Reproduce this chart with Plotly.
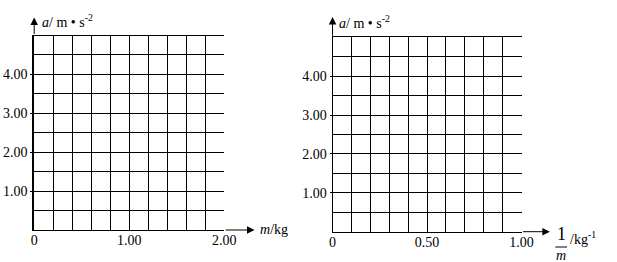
import plotly.graph_objects as go

W, H = 617, 262
FONT = "Liberation Serif"

# ---- data / axis definitions ----
# Left chart: a vs m
left_x_range = [0, 2]
left_x_ticks = [0, 1, 2]
left_x_labels = ["0", "1.00", "2.00"]
left_x_minor = 0.2
left_x_arrow_tip = 2.32

# shared a-axis
y_range = [0, 5]
y_ticks = [1, 2, 3, 4]
y_labels = ["1.00", "2.00", "3.00", "4.00"]
y_minor = 0.5
left_y_arrow_tip = 5.46

# Right chart: a vs 1/m
right_x_range = [0, 1]
right_x_ticks = [0, 0.5, 1]
right_x_labels = ["0", "0.50", "1.00"]
right_x_minor = 0.1
right_x_arrow_tip = 1.15
right_y_arrow_tip = 5.52


def dx(a, b):
    return [a / W, b / W]


def dy(top, bottom):
    return [1 - bottom / H, 1 - top / H]


def px(x):
    return x / W


def py(y):
    return 1 - y / H


tickfont = dict(family=FONT, size=14, color="black")


def xaxis(rng, dom, anchor, tv, tt, minor):
    return dict(
        range=rng, domain=dom, anchor=anchor,
        tickvals=tv, ticktext=tt, ticks="", ticklabelstandoff=-3,
        showgrid=True, gridcolor="black", gridwidth=1,
        zeroline=False, showline=True, linecolor="black", linewidth=1,
        mirror=True, tickfont=tickfont, fixedrange=True,
        minor=dict(tick0=0, dtick=minor, showgrid=True,
                   gridcolor="black", gridwidth=1, ticks=""),
    )


def yaxis(dom, anchor, lw):
    return dict(
        range=y_range, domain=dom, anchor=anchor,
        tickvals=y_ticks, ticktext=y_labels, ticks="outside", ticklen=2,
        tickcolor="black",
        showgrid=True, gridcolor="black", gridwidth=1,
        zeroline=False, showline=True, linecolor="black", linewidth=lw,
        mirror=False, tickfont=tickfont, fixedrange=True,
        minor=dict(tick0=0, dtick=y_minor, showgrid=True,
                   gridcolor="black", gridwidth=1, ticks=""),
    )


fig = go.Figure()
fig.add_trace(go.Scatter(x=[], y=[], xaxis="x", yaxis="y", showlegend=False))
fig.add_trace(go.Scatter(x=[], y=[], xaxis="x2", yaxis="y2", showlegend=False))

arrow = dict(text="", showarrow=True, arrowhead=2, arrowsize=1.5,
             arrowwidth=1, arrowcolor="black")

annotations = [
    # axis arrows
    dict(x=left_x_arrow_tip, y=0, ax=left_x_range[1], ay=0,
         xref="x", yref="y", axref="x", ayref="y", **arrow),
    dict(x=0, y=left_y_arrow_tip, ax=0, ay=y_range[1],
         xref="x", yref="y", axref="x", ayref="y", **arrow),
    dict(x=right_x_arrow_tip, y=0, ax=right_x_range[1], ay=0,
         xref="x2", yref="y2", axref="x2", ayref="y2", **arrow),
    dict(x=0, y=right_y_arrow_tip, ax=0, ay=y_range[1],
         xref="x2", yref="y2", axref="x2", ayref="y2", **arrow),
]

lab = dict(xref="paper", yref="paper", showarrow=False,
           font=dict(family=FONT, size=14, color="black"))
annotations += [
    dict(x=px(37), y=py(21), xanchor="left", yanchor="middle",
         text="<i>a</i>/ m • s<sup>-2</sup>", **lab),
    dict(x=px(342), y=py(22), xanchor="left", yanchor="middle",
         text="<i>a</i>/ m • s<sup>-2</sup>", **lab),
    dict(x=px(261), y=py(229), xanchor="left", yanchor="middle",
         text="<i>m</i>/kg", **lab),
    dict(x=px(572), y=py(234), xanchor="center", yanchor="middle",
         text="1", xref="paper", yref="paper", showarrow=False,
         font=dict(family=FONT, size=18, color="black")),
    dict(x=px(572), y=py(255), xanchor="center", yanchor="middle",
         text="<i>m</i>", xref="paper", yref="paper", showarrow=False,
         font=dict(family=FONT, size=14, color="black")),
    dict(x=px(579), y=py(238), xanchor="left", yanchor="middle",
         text="/kg<sup>-1</sup>", **lab),
]

shapes = [
    dict(type="line", xref="paper", yref="paper",
         x0=px(566), x1=px(578), y0=py(247), y1=py(247),
         line=dict(color="black", width=1)),
]

fig.update_layout(
    width=W, height=H,
    margin=dict(l=0, r=0, t=0, b=0),
    paper_bgcolor="white", plot_bgcolor="white",
    showlegend=False,
    xaxis=xaxis(left_x_range, dx(31, 226), "y", left_x_ticks, left_x_labels, left_x_minor),
    yaxis=yaxis(dy(35.5, 230), "x", 2),
    xaxis2=xaxis(right_x_range, dx(337.3, 531.3), "y2", right_x_ticks, right_x_labels, right_x_minor),
    yaxis2=yaxis(dy(37.3, 231.7), "x2", 1),
    annotations=annotations,
    shapes=shapes,
)

fig.write_html("out.html", config=dict(displayModeBar=False))
